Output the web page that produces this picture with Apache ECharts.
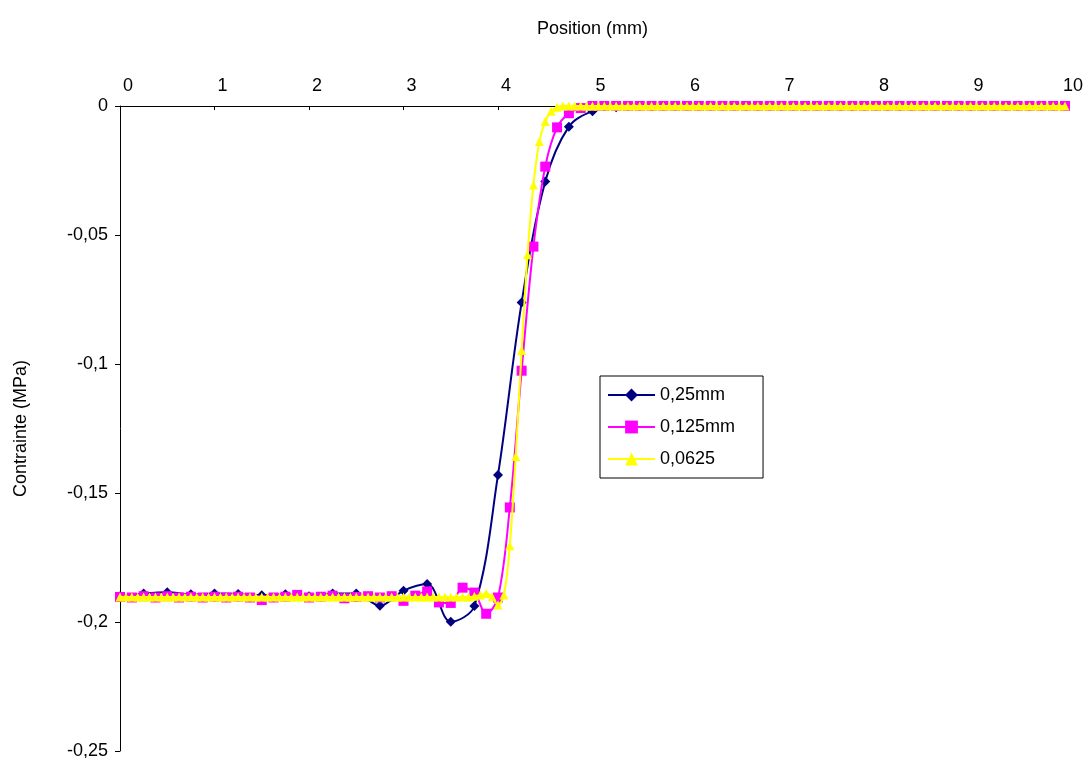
<!DOCTYPE html>
<html><head><meta charset="utf-8">
<script src="https://cdn.jsdelivr.net/npm/echarts@6/dist/echarts.min.js"></script>
<style>html,body{margin:0;padding:0;background:#fff}#c{width:1088px;height:758px}</style>
</head><body><div id="c"></div>
<script>
const xTicks = [0,1,2,3,4,5,6,7,8,9,10];
const yTicks = [0,-0.05,-0.1,-0.15,-0.2,-0.25];
const seriesNames = ['0,25mm','0,125mm','0,0625'];
const steps = [0.25, 0.125, 0.0625];

const s025 = [
-0.1900,-0.1890,-0.1885,-0.1892,-0.1890,-0.1891,-0.1896,-0.1892,-0.1900,-0.1890,
-0.1890,-0.1937,-0.1879,-0.1853,-0.1999,-0.1938,-0.1430,-0.0762,-0.0293,-0.0080,
-0.0020,-0.0005,0,0,0,0,0,0,0,0,
0,0,0,0,0,0,0,0,0,0,
0];

const s0125 = [
-0.1903,-0.1905,-0.1900,-0.1905,-0.1900,-0.1905,-0.1902,-0.1905,-0.1902,-0.1905,
-0.1902,-0.1905,-0.1915,-0.1905,-0.1902,-0.1895,-0.1905,-0.1902,-0.1898,-0.1908,
-0.1903,-0.1900,-0.1905,-0.1900,-0.1918,-0.1898,-0.1882,-0.1924,-0.1926,-0.1867,
-0.1886,-0.1968,-0.1905,-0.1556,-0.1026,-0.0545,-0.0235,-0.0083,-0.0028,-0.0008,
0,0,0,0,0,0,0,0,0,0,
0,0,0,0,0,0,0,0,0,0,
0,0,0,0,0,0,0,0,0,0,
0,0,0,0,0,0,0,0,0,0,
0];

const s00625 = [
-0.1903,-0.1903,-0.1903,-0.1903,-0.1903,-0.1903,-0.1903,-0.1903,-0.1903,-0.1903,
-0.1903,-0.1903,-0.1903,-0.1903,-0.1903,-0.1903,-0.1903,-0.1903,-0.1903,-0.1903,
-0.1903,-0.1903,-0.1903,-0.1903,-0.1903,-0.1903,-0.1903,-0.1903,-0.1903,-0.1903,
-0.1903,-0.1903,-0.1903,-0.1903,-0.1903,-0.1903,-0.1903,-0.1903,-0.1903,-0.1903,
-0.1903,-0.1903,-0.1903,-0.1903,-0.1903,-0.1903,-0.1903,-0.1903,-0.1903,-0.1903,
-0.1903,-0.1903,-0.1903,-0.1903,-0.1903,-0.1903,-0.1903,-0.1903,-0.1903,-0.1903,
-0.1900,-0.1895,-0.1890,-0.1902,-0.1934,-0.1895,-0.1704,-0.1359,-0.0948,-0.0577,
-0.0306,-0.0138,-0.0060,-0.0020,-0.0005,0,0,0,0,0,
0,0,0,0,0,0,0,0,0,0,
0,0,0,0,0,0,0,0,0,0,
0,0,0,0,0,0,0,0,0,0,
0,0,0,0,0,0,0,0,0,0,
0,0,0,0,0,0,0,0,0,0,
0,0,0,0,0,0,0,0,0,0,
0,0,0,0,0,0,0,0,0,0,
0,0,0,0,0,0,0,0,0,0,
0];

function pairs(vals, step){ return vals.map((v,i)=>[+(i*step).toFixed(4), v]); }
const FONT = 'Liberation Sans, Arial, sans-serif';
const chart = echarts.init(document.getElementById('c'));
const fmt = v => String(parseFloat(v.toFixed(2))).replace('.', ',');
chart.setOption({
  animation: false,
  backgroundColor: '#fff',
  textStyle: {fontFamily: FONT, color: '#000'},
  grid: {left: 120, right: 23, top: 106, bottom: 7, containLabel: false, outerBoundsMode: 'none'},
  xAxis: {
    type: 'value', position: 'top', min: 0, max: 10, interval: 1,
    name: 'Position (mm)', nameLocation: 'middle', nameGap: 68,
    nameTextStyle: {fontSize: 18, color: '#000', fontFamily: FONT},
    axisLine: {show: true, onZero: false, lineStyle: {color: '#000', width: 1}},
    axisTick: {show: true, inside: true, length: 4, lineStyle: {color: '#000'}},
    axisLabel: {fontSize: 18, color: '#000', fontFamily: FONT, margin: 11, padding: [0,0,0,16]},
    splitLine: {show: false}
  },
  yAxis: {
    type: 'value', min: -0.25, max: 0, interval: 0.05,
    name: 'Contrainte (MPa)', nameLocation: 'middle', nameGap: 90, nameRotate: 90,
    nameTextStyle: {fontSize: 18, color: '#000', fontFamily: FONT},
    axisLine: {show: true, onZero: false, lineStyle: {color: '#000', width: 1}},
    axisTick: {show: true, inside: false, length: 5, lineStyle: {color: '#000'}},
    axisLabel: {fontSize: 18, color: '#000', fontFamily: FONT, margin: 12, formatter: fmt},
    splitLine: {show: false}
  },
  legend: {
    orient: 'vertical', left: 600, top: 376,
    backgroundColor: '#fff', borderColor: '#000', borderWidth: 1,
    padding: [9, 28, 9, 7], itemWidth: 47, itemHeight: 16, itemGap: 12,
    textStyle: {fontSize: 18, color: '#000', fontFamily: FONT, lineHeight: 20},
    data: seriesNames
  },
  series: [
    {name: seriesNames[0], type: 'line', data: pairs(s025, steps[0]), smooth: 0.35,
     symbol: 'diamond', symbolSize: 10, showAllSymbol: true,
     lineStyle: {color: '#000080', width: 2}, itemStyle: {color: '#000080'}, z: 2},
    {name: seriesNames[1], type: 'line', data: pairs(s0125, steps[1]), smooth: 0.35,
     symbol: 'rect', symbolSize: 10, showAllSymbol: true,
     lineStyle: {color: '#FF00FF', width: 2}, itemStyle: {color: '#FF00FF'}, z: 3},
    {name: seriesNames[2], type: 'line', data: pairs(s00625, steps[2]), smooth: 0.35,
     symbol: 'triangle', symbolSize: 9, showAllSymbol: true,
     lineStyle: {color: '#FFFF00', width: 2}, itemStyle: {color: '#FFFF00'}, z: 4}
  ]
});
</script></body></html>
